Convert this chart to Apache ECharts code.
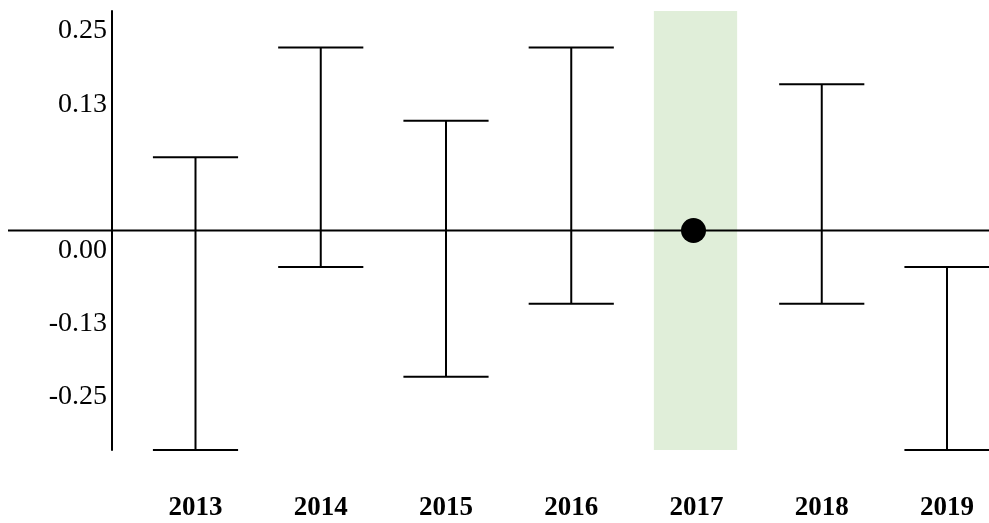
<!DOCTYPE html>
<html>
<head>
<meta charset="utf-8">
<style>
  html, body { margin: 0; padding: 0; background: #ffffff; }
  #chart { width: 989px; height: 523px; }
</style>
<script src="https://cdn.jsdelivr.net/npm/echarts@6/dist/echarts.min.js"></script>
</head>
<body>
<div id="chart"></div>
<script>
// Years on the category axis
const years = ['2013', '2014', '2015', '2016', '2017', '2018', '2019'];
// Interval bounds per year (null where the year has no interval)
const lowerBounds = [-0.375, -0.0625, -0.25, -0.125, null, -0.125, -0.375];
const upperBounds = [0.125, 0.3125, 0.1875, 0.3125, null, 0.25, -0.0625];
// Single marked estimate
const pointYear = '2017';
const pointValue = 0;
// Highlighted year
const highlightYear = '2017';
// Y axis range and its tick labels, listed from the lowest tick upward
const yMin = -0.375;
const yMax = 0.375;
const yStep = 0.125;
const yTickLabels = ['', '-0.25', '-0.13', '0.00', '', '0.13', '0.25'];
const zeroValue = 0;

const chart = echarts.init(document.getElementById('chart'));
const serif = '"Liberation Serif", "Times New Roman", serif';

const intervalData = years.map((y, i) => [i, lowerBounds[i], upperBounds[i]])
  .filter(d => d[1] !== null && d[2] !== null);

chart.setOption({
  animation: false,
  backgroundColor: '#ffffff',
  // grid spans from the first year's centre to the last year's centre
  grid: { left: 195.5, width: 751.5, top: 11, bottom: 73, containLabel: false },
  xAxis: {
    type: 'category',
    data: years,
    boundaryGap: false,
    axisLine: { show: false },
    axisTick: { show: false },
    splitLine: { show: false },
    axisLabel: {
      margin: 45,
      color: '#000',
      fontFamily: serif,
      fontWeight: 'bold',
      fontSize: 27
    }
  },
  yAxis: {
    type: 'value',
    min: yMin,
    max: yMax,
    interval: yStep,
    offset: 83.5,
    axisLine: { show: true, lineStyle: { color: '#000', width: 2 } },
    axisTick: { show: false },
    splitLine: { show: false },
    axisLabel: {
      margin: 5,
      color: '#000',
      fontFamily: serif,
      fontSize: 28,
      verticalAlign: 'top',
      lineHeight: 40,
      formatter: (v) => yTickLabels[Math.round((v - yMin) / yStep)] || ''
    }
  },
  series: [
    {
      // highlighted year band
      type: 'custom',
      z: 1,
      clip: false,
      data: [[years.indexOf(highlightYear), yMin, yMax]],
      renderItem: (params, api) => {
        const top = api.coord([api.value(0), api.value(2)]);
        const bot = api.coord([api.value(0), api.value(1)]);
        const w = api.size([1, 0])[0] * 0.665;
        return {
          type: 'rect',
          shape: { x: top[0] - 1 - w / 2, y: top[1], width: w, height: bot[1] - top[1] },
          style: { fill: '#e0eed9' }
        };
      }
    },
    {
      // zero reference line spanning the page
      type: 'custom',
      z: 2,
      clip: false,
      data: [[0, zeroValue]],
      renderItem: (params, api) => {
        const p = api.coord([0, api.value(1)]);
        return {
          type: 'line',
          shape: { x1: 8, y1: p[1], x2: api.getWidth(), y2: p[1] },
          style: { stroke: '#000', lineWidth: 2 }
        };
      }
    },
    {
      // intervals with caps
      type: 'custom',
      z: 3,
      clip: false,
      data: intervalData,
      renderItem: (params, api) => {
        const lo = api.coord([api.value(0), api.value(1)]);
        const hi = api.coord([api.value(0), api.value(2)]);
        const half = api.size([1, 0])[0] * 0.68 / 2;
        const style = { stroke: '#000', lineWidth: 2 };
        return {
          type: 'group',
          children: [
            { type: 'line', shape: { x1: hi[0], y1: hi[1], x2: lo[0], y2: lo[1] }, style },
            { type: 'line', shape: { x1: hi[0] - half, y1: hi[1], x2: hi[0] + half, y2: hi[1] }, style },
            { type: 'line', shape: { x1: lo[0] - half, y1: lo[1], x2: lo[0] + half, y2: lo[1] }, style }
          ]
        };
      }
    },
    {
      type: 'scatter',
      z: 4,
      clip: false,
      symbol: 'circle',
      symbolSize: 25,
      symbolOffset: [-3, 0],
      itemStyle: { color: '#000', opacity: 1 },
      data: [[pointYear, pointValue]]
    }
  ]
});
</script>
</body>
</html>
